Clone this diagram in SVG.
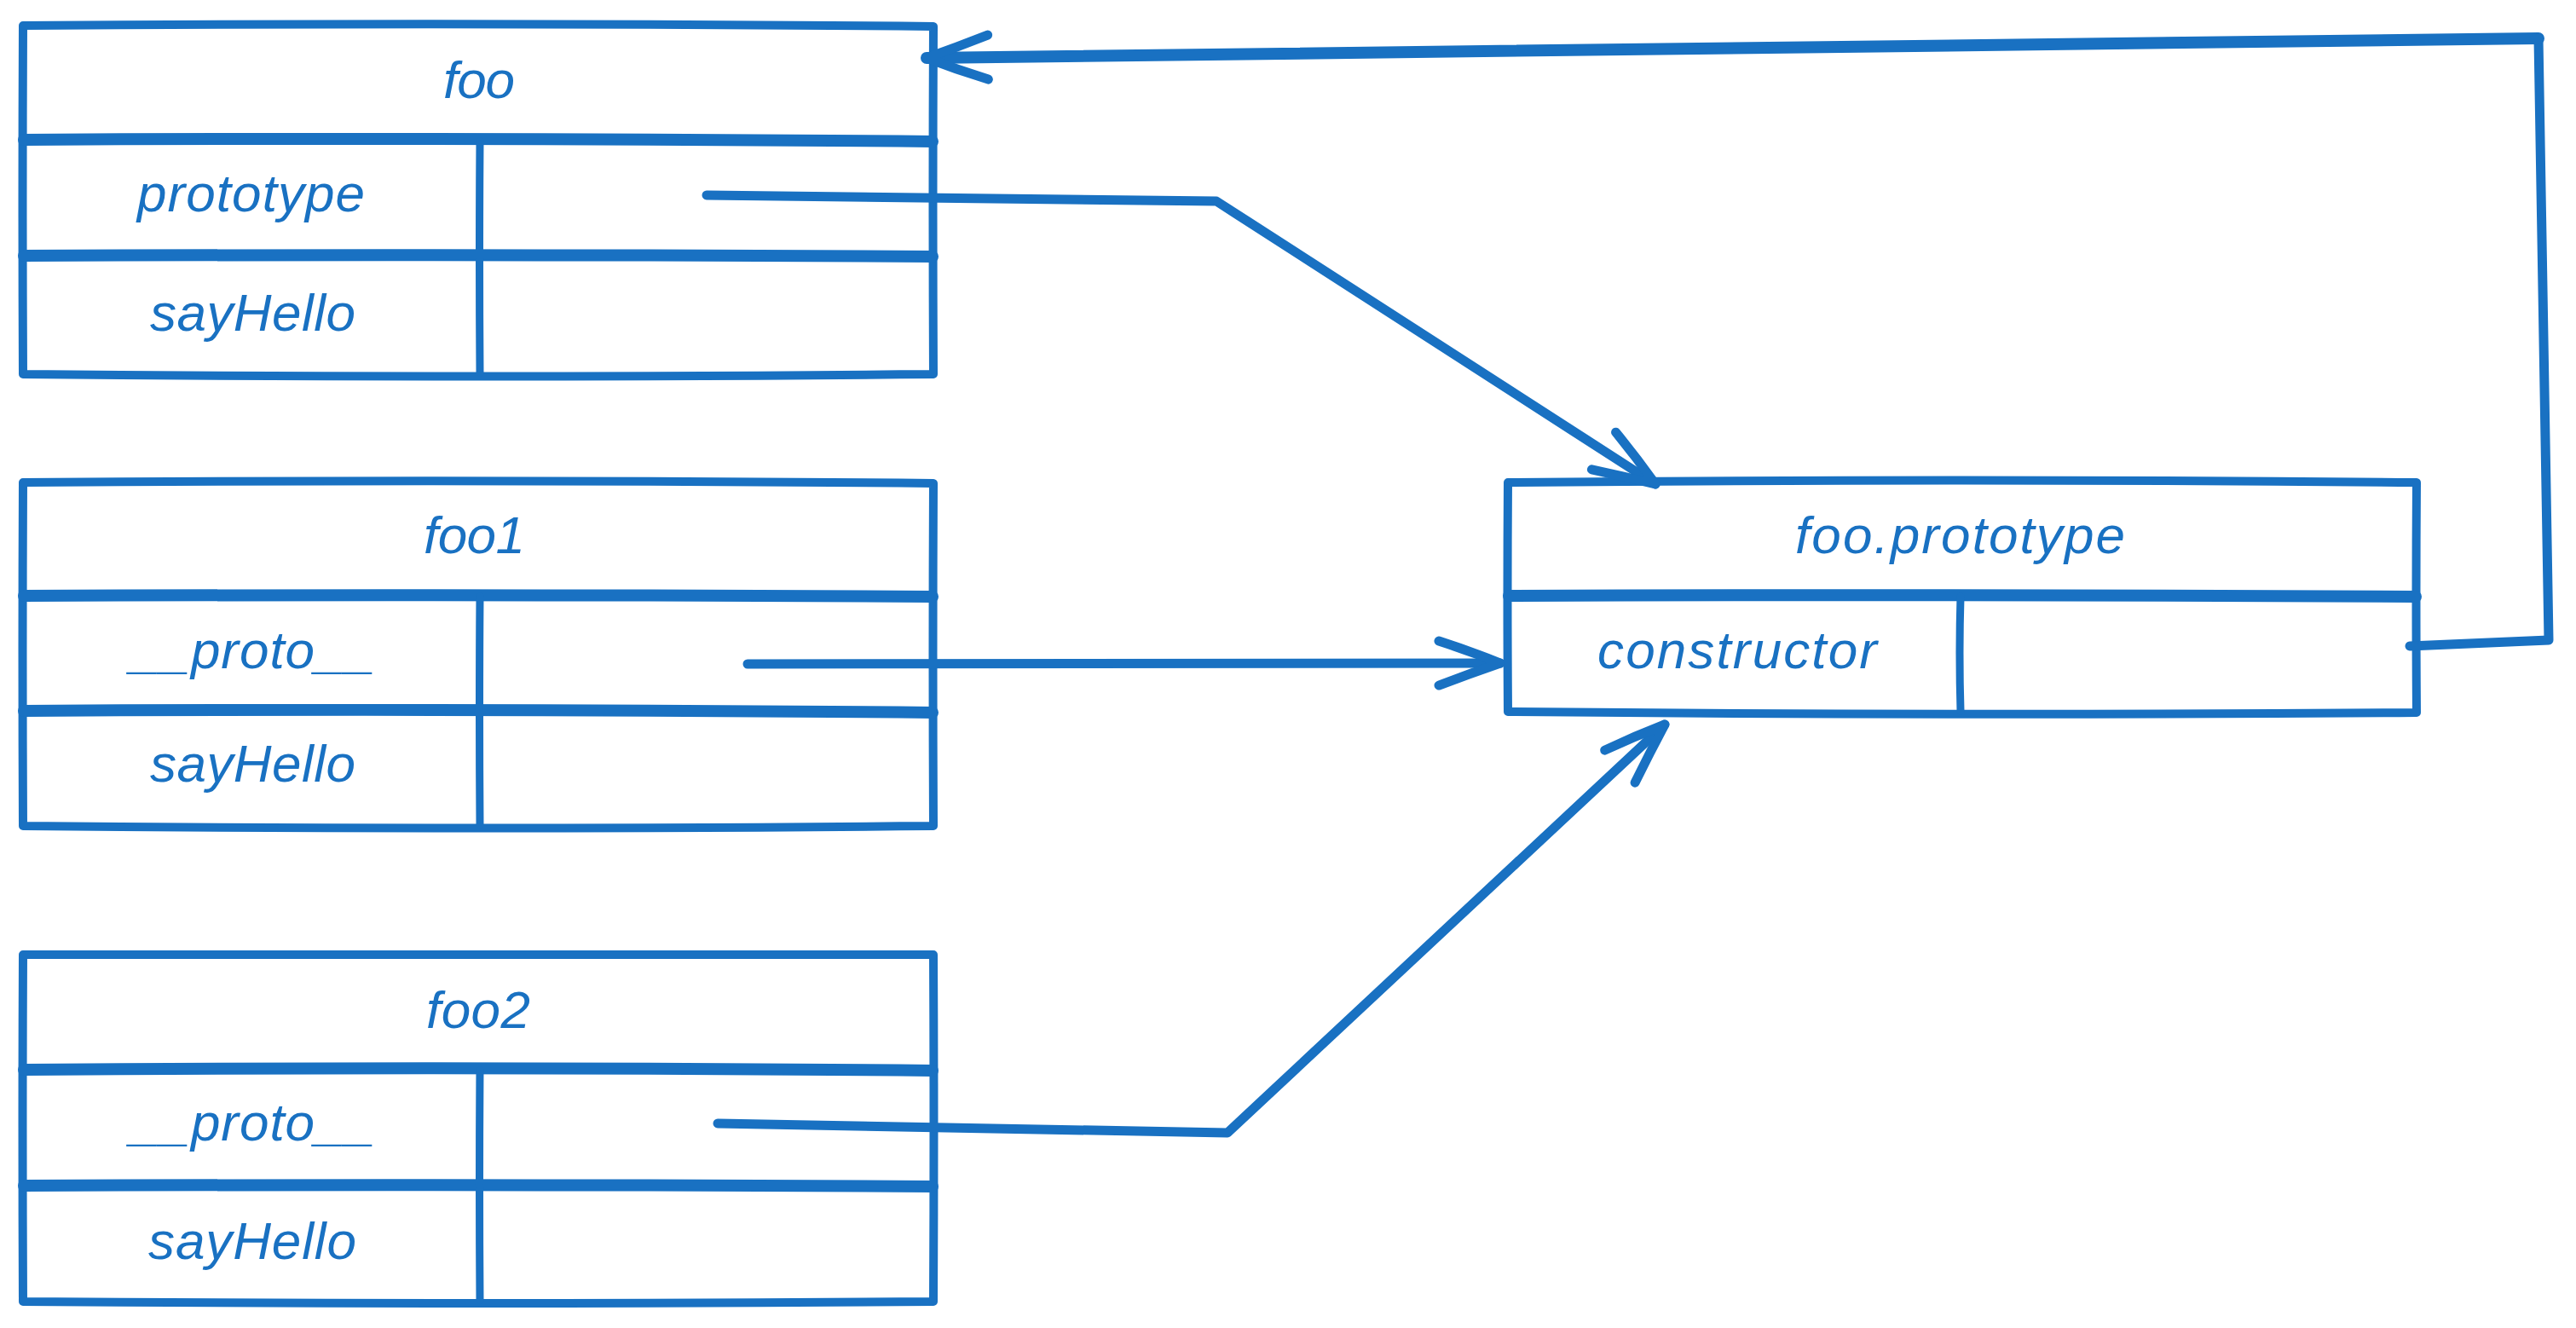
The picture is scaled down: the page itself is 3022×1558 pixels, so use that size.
<svg xmlns="http://www.w3.org/2000/svg" width="3022" height="1558" viewBox="0 0 3022 1558">
  <style>
    .bg { fill: #ffffff; }
    .box { fill: none; stroke: #1971c2; stroke-width: 10; stroke-linecap: round; stroke-linejoin: round; }
    .sep { fill: none; stroke: #1971c2; stroke-width: 14; stroke-linecap: round; }
    .div { fill: none; stroke: #1971c2; stroke-width: 9; stroke-linecap: round; }
    .lbl { fill: #1971c2; font-family: "Liberation Sans", "DejaVu Sans", sans-serif; font-style: italic; font-size: 62px; }
    .conn { fill: none; stroke: #1971c2; stroke-width: 11; stroke-linecap: round; stroke-linejoin: round; }
    .thick { stroke-width: 14; }
    .head { fill: none; stroke: #1971c2; stroke-width: 11; stroke-linecap: round; stroke-linejoin: round; }
  </style>
  <defs>
    <marker id="arrow" markerUnits="userSpaceOnUse" viewBox="-90 -45 100 90" markerWidth="100" markerHeight="90" refX="0" refY="0" orient="auto" overflow="visible">
      <path class="head" d="M-72,-26 Q-35,-14 0,0 Q-35,12 -72,26"/>
    </marker>
  </defs>
  <rect class="bg" x="0" y="0" width="3022" height="1558"/>

  <g id="node-foo">
    <path class="box" d="M27,30 Q560,26 1095,31 Q1094,235 1095,439 Q560,444 27,439 Q26,235 27,30 Z"/>
    <path class="sep" d="M28,164 Q560,161 1094,166"/>
    <path class="sep" d="M28,300 Q560,298 1094,301"/>
    <path class="div" d="M563,166 Q562,300 563,437"/>
    <text class="lbl" x="520" y="115" textLength="84" lengthAdjust="spacing">foo</text>
    <text class="lbl" x="161" y="248" textLength="267" lengthAdjust="spacing">prototype</text>
    <text class="lbl" x="176" y="388" textLength="241" lengthAdjust="spacing">sayHello</text>
  </g>

  <g id="node-foo1">
    <path class="box" d="M27,566 Q560,562 1095,567 Q1094,768 1095,969 Q560,974 27,969 Q26,768 27,566 Z"/>
    <path class="sep" d="M28,699 Q560,697 1094,700"/>
    <path class="sep" d="M28,834 Q560,831 1094,836"/>
    <path class="div" d="M563,700 Q562,834 563,967"/>
    <text class="lbl" x="497" y="649" textLength="119" lengthAdjust="spacing">foo1</text>
    <text class="lbl" x="153" y="784" textLength="287" lengthAdjust="spacing">__proto__</text>
    <text class="lbl" x="176" y="917" textLength="241" lengthAdjust="spacing">sayHello</text>
  </g>

  <g id="node-foo2">
    <path class="box" d="M27,1120 Q560,1122 1095,1120 Q1096,1323 1095,1527 Q560,1531 27,1527 Q26,1323 27,1120 Z"/>
    <path class="sep" d="M28,1255 Q560,1251 1094,1256"/>
    <path class="sep" d="M28,1391 Q560,1389 1094,1392"/>
    <path class="div" d="M563,1256 Q562,1390 563,1525"/>
    <text class="lbl" x="500" y="1206" textLength="122" lengthAdjust="spacing">foo2</text>
    <text class="lbl" x="153" y="1338" textLength="287" lengthAdjust="spacing">__proto__</text>
    <text class="lbl" x="174" y="1477" textLength="244" lengthAdjust="spacing">sayHello</text>
  </g>

  <g id="node-foo-prototype">
    <path class="box" d="M1769,566 Q2300,561 2835,566 Q2834,700 2835,836 Q2300,840 1769,835 Q1768,700 1769,566 Z"/>
    <path class="sep" d="M1770,699 Q2300,697 2834,700"/>
    <path class="div" d="M2300,700 Q2298,768 2300,834"/>
    <text class="lbl" x="2106" y="649" textLength="387" lengthAdjust="spacing">foo.prototype</text>
    <text class="lbl" x="1874" y="784" textLength="328" lengthAdjust="spacing">constructor</text>
  </g>

  <g id="connectors">
    <path class="conn" d="M2827,758 L2990,751 L2978,45"/>
    <path class="conn thick" d="M2978,45 L1087,68" marker-end="url(#arrow)"/>
    <path class="conn" d="M829,229 L1427,236 L1942,568" marker-end="url(#arrow)"/>
    <path class="conn" d="M877,779 L1760,778" marker-end="url(#arrow)"/>
    <path class="conn" d="M842,1318 L1440,1329 L1953,850" marker-end="url(#arrow)"/>
  </g>
</svg>
